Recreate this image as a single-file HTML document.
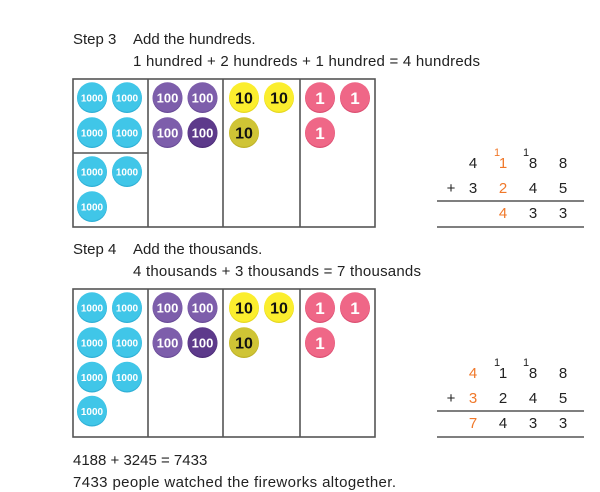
<!DOCTYPE html>
<html><head><meta charset="utf-8"><style>
html,body{margin:0;padding:0;background:#fff;}
svg{display:block;}
text{font-family:"Liberation Sans",sans-serif;}
</style></head><body>
<svg width="600" height="492" viewBox="0 0 600 492" xmlns="http://www.w3.org/2000/svg">
<defs>
<g id="th"><circle r="15" fill="#2fb0d6"/><circle r="14.8" cy="-1" fill="#40c6e8"/><text y="3.5" text-anchor="middle" font-size="10" font-weight="bold" fill="#fff">1000</text></g>
<g id="hu"><circle r="15" fill="#6a4c98"/><circle r="14.8" cy="-1" fill="#7d5eab"/><text y="4.5" text-anchor="middle" font-size="13" font-weight="bold" fill="#fff">100</text></g>
<g id="hd"><circle r="15" fill="#4d2c78"/><circle r="14.8" cy="-1" fill="#5d3a8b"/><text y="4.5" text-anchor="middle" font-size="13" font-weight="bold" fill="#fff">100</text></g>
<g id="te"><circle r="15" fill="#e6d820"/><circle r="14.8" cy="-1" fill="#fbee2e"/><text y="5.5" text-anchor="middle" font-size="16" font-weight="bold" fill="#111">10</text></g>
<g id="td"><circle r="15" fill="#bdb128"/><circle r="14.8" cy="-1" fill="#cfc435"/><text y="5.5" text-anchor="middle" font-size="16" font-weight="bold" fill="#111">10</text></g>
<g id="on"><circle r="15" fill="#dc4f72"/><circle r="14.8" cy="-1" fill="#ef6787"/><text y="6" text-anchor="middle" font-size="17" font-weight="bold" fill="#fff">1</text></g>
</defs>

<!-- Step 3 text -->
<g font-size="15" fill="#222">
<text x="73" y="44">Step 3</text>
<text x="133" y="44">Add the hundreds.</text>
<text x="133" y="66" textLength="347">1 hundred + 2 hundreds + 1 hundred = 4 hundreds</text>
</g>

<!-- Table 1 -->
<g fill="none" stroke="#555" stroke-width="1.6">
<rect x="73" y="79" width="302" height="148"/>
<line x1="148" y1="79" x2="148" y2="227"/>
<line x1="223" y1="79" x2="223" y2="227"/>
<line x1="300" y1="79" x2="300" y2="227"/>
<line x1="73" y1="153" x2="148" y2="153"/>
</g>
<use href="#th" x="92" y="98"/><use href="#th" x="127" y="98"/>
<use href="#th" x="92" y="133"/><use href="#th" x="127" y="133"/>
<use href="#th" x="92" y="172"/><use href="#th" x="127" y="172"/>
<use href="#th" x="92" y="207"/>
<use href="#hu" x="167.5" y="98"/><use href="#hu" x="202.5" y="98"/>
<use href="#hu" x="167.5" y="133"/><use href="#hd" x="202.5" y="133"/>
<use href="#te" x="244" y="98"/><use href="#te" x="279" y="98"/>
<use href="#td" x="244" y="133"/>
<use href="#on" x="320" y="98"/><use href="#on" x="355" y="98"/>
<use href="#on" x="320" y="133"/>

<!-- Column addition 1 -->
<g font-size="15" fill="#222" text-anchor="middle">
<text x="473" y="168">4</text>
<text x="503" y="168" fill="#f0782a">1</text>
<text x="533" y="168">8</text>
<text x="563" y="168">8</text>
<text x="497" y="156" font-size="11" fill="#f0782a">1</text>
<text x="526" y="156" font-size="11">1</text>
<text x="451" y="193">+</text>
<text x="473" y="193">3</text>
<text x="503" y="193" fill="#f0782a">2</text>
<text x="533" y="193">4</text>
<text x="563" y="193">5</text>
<text x="503" y="218" fill="#f0782a">4</text>
<text x="533" y="218">3</text>
<text x="563" y="218">3</text>
</g>
<line x1="437" y1="201" x2="584" y2="201" stroke="#333" stroke-width="1.3"/>
<line x1="437" y1="227" x2="584" y2="227" stroke="#333" stroke-width="1.3"/>

<!-- Step 4 text -->
<g font-size="15" fill="#222">
<text x="73" y="254">Step 4</text>
<text x="133" y="254">Add the thousands.</text>
<text x="133" y="276" textLength="288">4 thousands + 3 thousands = 7 thousands</text>
</g>

<!-- Table 2 -->
<g fill="none" stroke="#555" stroke-width="1.6">
<rect x="73" y="289" width="302" height="148"/>
<line x1="148" y1="289" x2="148" y2="437"/>
<line x1="223" y1="289" x2="223" y2="437"/>
<line x1="300" y1="289" x2="300" y2="437"/>
</g>
<use href="#th" x="92" y="308"/><use href="#th" x="127" y="308"/>
<use href="#th" x="92" y="343"/><use href="#th" x="127" y="343"/>
<use href="#th" x="92" y="377.5"/><use href="#th" x="127" y="377.5"/>
<use href="#th" x="92" y="411.5"/>
<use href="#hu" x="167.5" y="308"/><use href="#hu" x="202.5" y="308"/>
<use href="#hu" x="167.5" y="343"/><use href="#hd" x="202.5" y="343"/>
<use href="#te" x="244" y="308"/><use href="#te" x="279" y="308"/>
<use href="#td" x="244" y="343"/>
<use href="#on" x="320" y="308"/><use href="#on" x="355" y="308"/>
<use href="#on" x="320" y="343"/>

<!-- Column addition 2 -->
<g font-size="15" fill="#222" text-anchor="middle">
<text x="473" y="378" fill="#f0782a">4</text>
<text x="503" y="378">1</text>
<text x="533" y="378">8</text>
<text x="563" y="378">8</text>
<text x="497" y="366" font-size="11">1</text>
<text x="526" y="366" font-size="11">1</text>
<text x="451" y="403">+</text>
<text x="473" y="403" fill="#f0782a">3</text>
<text x="503" y="403">2</text>
<text x="533" y="403">4</text>
<text x="563" y="403">5</text>
<text x="473" y="428" fill="#f0782a">7</text>
<text x="503" y="428">4</text>
<text x="533" y="428">3</text>
<text x="563" y="428">3</text>
</g>
<line x1="437" y1="411" x2="584" y2="411" stroke="#333" stroke-width="1.3"/>
<line x1="437" y1="437" x2="584" y2="437" stroke="#333" stroke-width="1.3"/>

<!-- Bottom text -->
<g font-size="15" fill="#222">
<text x="73" y="465">4188 + 3245 = 7433</text>
<text x="73" y="487" textLength="323">7433 people watched the fireworks altogether.</text>
</g>
</svg>
</body></html>
